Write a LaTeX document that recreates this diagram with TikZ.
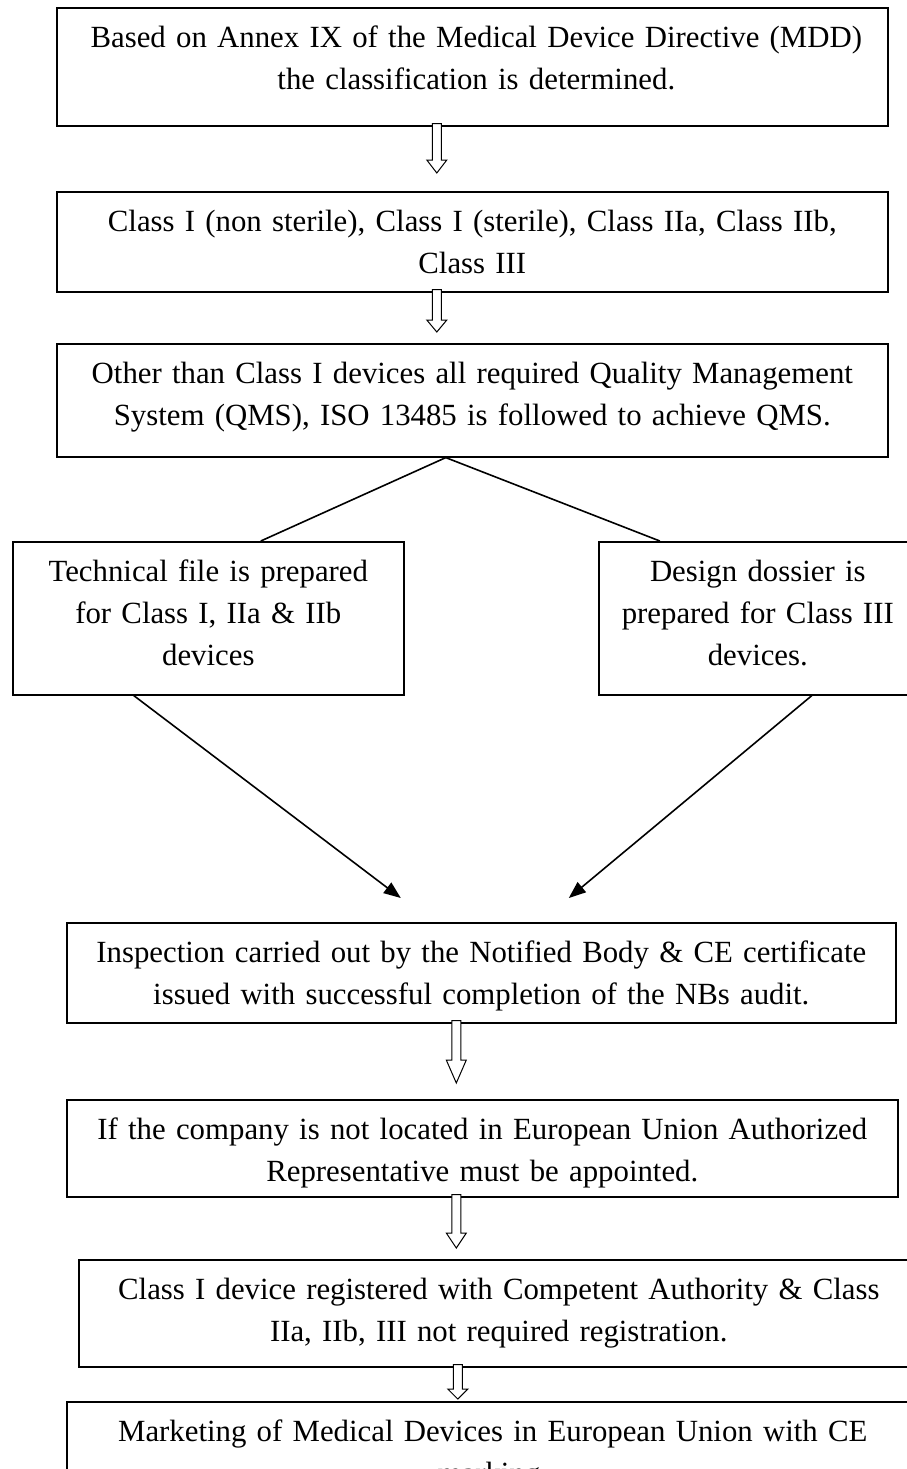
\documentclass[tikz,border=0pt]{standalone}
\usepackage{fontspec}
\setmainfont{Liberation Serif}
\usetikzlibrary{calc,arrows.meta}
\begin{document}
\begin{tikzpicture}[x=1pt,y=-1pt,
  box/.style={draw, line width=1.6pt, rectangle, inner sep=0pt, anchor=north west},
  txt/.style={anchor=north, inner sep=0pt, align=center, text width=880pt,
    font=\fontsize{30.8}{42}\selectfont, execute at begin node={\noindent\strut}},
  link/.style={line width=1.6pt},
  arr/.style={line width=1.6pt, -{Triangle[length=17pt,width=13pt]}},
  hollow/.style={draw, fill=white, line width=1pt,
    to path={let \p1=(\tikztostart), \p2=(\tikztotarget) in
      (\x1-4.5pt,\y1+3pt) -- (\x1-4.5pt,\y2+#1) -- (\x1-10pt,\y2+#1) -- (\x1,\y2)
      -- (\x1+10pt,\y2+#1) -- (\x1+4.5pt,\y2+#1) -- (\x1+4.5pt,\y1+3pt) -- cycle}},
  hollow/.default=14pt]
\clip (0,0) rectangle (907,1469);
\fill[white] (0,0) rectangle (907,1469);

% boxes
\node[box, minimum width=831pt, minimum height=118pt] (b1) at (56,7) {};
\node[box, minimum width=831pt, minimum height=100pt] (b2) at (56,191) {};
\node[box, minimum width=831pt, minimum height=113pt] (b3) at (56,343) {};
\node[box, minimum width=391pt, minimum height=153pt] (b4) at (12,541) {};
\node[box, minimum width=310pt, minimum height=153pt] (b5) at (598,541) {};
\node[box, minimum width=829pt, minimum height=100pt] (b6) at (66,922) {};
\node[box, minimum width=831pt, minimum height=97pt] (b7) at (66,1099) {};
\node[box, minimum width=840pt, minimum height=107pt] (b8) at (78,1259) {};
\node[box, minimum width=852pt, minimum height=120pt] (b9) at (66,1401) {};

% texts
\node[txt] (t1) at ($(b1.north)+(4,10.6)$) {Based on Annex IX of the Medical Device Directive (MDD)\\the classification is determined.};
\node[txt] (t2) at ($(b2.north)+(0,10.6)$) {Class I (non sterile), Class I (sterile), Class IIa, Class IIb,\\Class III};
\node[txt] (t3) at ($(b3.north)+(0,10.6)$) {Other than Class I devices all required Quality Management\\System (QMS), ISO 13485 is followed to achieve QMS.};
\node[txt] (t4) at ($(b4.north)+(0,10.6)$) {Technical file is prepared\\for Class I, IIa \& IIb\\devices};
\node[txt] (t5) at ($(b5.north)+(4,10.6)$) {Design dossier is\\prepared for Class III\\devices.};
\node[txt] (t6) at ($(b6.north)+(0,10.6)$) {Inspection carried out by the Notified Body \& CE certificate\\issued with successful completion of the NBs audit.};
\node[txt] (t7) at ($(b7.north)+(0,10.6)$) {If the company is not located in European Union Authorized\\Representative must be appointed.};
\node[txt] (t8) at ($(b8.north)+(0,10.6)$) {Class I device registered with Competent Authority \& Class\\IIa, IIb, III not required registration.};
\node[txt] (t9) at ($(b9.north)+(0,10.6)$) {Marketing of Medical Devices in European Union with CE\\marking.};

% hollow block arrows
\draw[hollow=13pt] ($(b1.south)+(-35.5,0)$) to ($(b2.north)+(-35.5,-18)$);
\draw[hollow=12pt] ($(b2.south)+(-35.5,0)$) to ($(b3.north)+(-35.5,-11)$);
\draw[hollow=23pt] ($(b6.south)+(-25,0)$) to ($(b7.north)+(-26,-16)$);
\draw[hollow=15pt] ($(b7.south)+(-26,0)$) to ($(b8.north)+(-39.5,-11)$);
\draw[hollow=10pt] ($(b8.south)+(-41,0)$) to ($(b9.north)+(-38,-2)$);

% split lines
\draw[link] ($(b3.south)+(-26.5,0)$) -- ($(b4.north)+(52.5,0)$);
\draw[link] ($(b3.south)+(-26.5,0)$) -- ($(b5.north)+(-94,0)$);

% merging arrows
\draw[arr] ($(b4.south)+(-74.5,0)$) -- ($(b6.north)+(-80.5,-24)$);
\draw[arr] ($(b5.south)+(58,0)$) -- ($(b6.north)+(87.5,-24)$);
\end{tikzpicture}
\end{document}
